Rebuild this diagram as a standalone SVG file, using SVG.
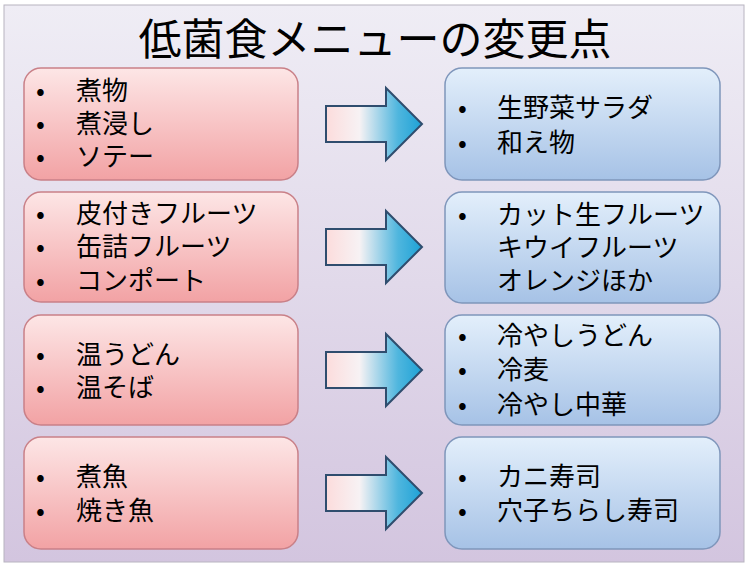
<svg xmlns="http://www.w3.org/2000/svg" width="750" height="567" viewBox="0 0 750 567">
<defs>
<linearGradient id="bg" x1="0" y1="0" x2="0" y2="1">
<stop offset="0" stop-color="#efedf5"/>
<stop offset="1" stop-color="#d3c5df"/>
</linearGradient>
<linearGradient id="pink" x1="0" y1="0" x2="0" y2="1">
<stop offset="0" stop-color="#fde6e6"/>
<stop offset="1" stop-color="#f2a2a4"/>
</linearGradient>
<linearGradient id="blue" x1="0" y1="0" x2="0" y2="1">
<stop offset="0" stop-color="#e3effb"/>
<stop offset="1" stop-color="#a6c2e6"/>
</linearGradient>
<linearGradient id="arr" x1="0" y1="0" x2="1" y2="0">
<stop offset="0" stop-color="#fcdcdc"/>
<stop offset="0.35" stop-color="#f7f2f4"/>
<stop offset="0.75" stop-color="#4fb6de"/>
<stop offset="1" stop-color="#1ea2d6"/>
</linearGradient>
</defs>
<style>
.l{fill:url(#pink);stroke:#c98088;stroke-width:1.5}
.r{fill:url(#blue);stroke:#7f96bb;stroke-width:1.5}
.a{fill:url(#arr);stroke:#2f4d6e;stroke-width:2;stroke-linejoin:miter}
text{font-family:"Noto Sans CJK JP","Noto Sans CJK SC",sans-serif;fill:#000}
.t{font-size:26px}
.h{font-size:43px}
</style>
<rect x="0" y="0" width="750" height="567" fill="#ffffff"/>
<rect x="4" y="5" width="740" height="557" fill="url(#bg)" stroke="#b8b4c0" stroke-width="1"/>
<text class="h" x="375" y="55" text-anchor="middle">低菌食メニューの変更点</text>

<g id="connectors">
<polygon class="a" points="326,106 386,106 386,88 422,124 386,160 386,142 326,142"/>
<polygon class="a" points="326,229 386,229 386,211 422,247 386,283 386,265 326,265"/>
<polygon class="a" points="326,352 386,352 386,334 422,370 386,406 386,388 326,388"/>
<polygon class="a" points="326,475 386,475 386,457 422,493 386,529 386,511 326,511"/>
</g>

<g id="left1">
<rect class="l" x="24" y="68" width="274" height="112" rx="17"/>
<text class="t" x="36" y="100">•</text><text class="t" x="76" y="100">煮物</text>
<text class="t" x="36" y="133">•</text><text class="t" x="76" y="133">煮浸し</text>
<text class="t" x="36" y="166">•</text><text class="t" x="76" y="166">ソテー</text>
</g>
<g id="left2">
<rect class="l" x="24" y="192" width="274" height="110" rx="17"/>
<text class="t" x="36" y="223">•</text><text class="t" x="76" y="223">皮付きフルーツ</text>
<text class="t" x="36" y="256">•</text><text class="t" x="76" y="256">缶詰フルーツ</text>
<text class="t" x="36" y="290">•</text><text class="t" x="76" y="290">コンポート</text>
</g>
<g id="left3">
<rect class="l" x="24" y="315" width="274" height="110" rx="17"/>
<text class="t" x="36" y="364">•</text><text class="t" x="76" y="364">温うどん</text>
<text class="t" x="36" y="397">•</text><text class="t" x="76" y="397">温そば</text>
</g>
<g id="left4">
<rect class="l" x="24" y="437" width="274" height="112" rx="17"/>
<text class="t" x="36" y="486">•</text><text class="t" x="76" y="486">煮魚</text>
<text class="t" x="36" y="520">•</text><text class="t" x="76" y="520">焼き魚</text>
</g>

<g id="right1">
<rect class="r" x="445" y="68" width="275" height="112" rx="17"/>
<text class="t" x="458" y="117">•</text><text class="t" x="497" y="117">生野菜サラダ</text>
<text class="t" x="458" y="152">•</text><text class="t" x="497" y="152">和え物</text>
</g>
<g id="right2">
<rect class="r" x="445" y="192" width="275" height="111" rx="17"/>
<text class="t" x="458" y="224">•</text><text class="t" x="497" y="224">カット生フルーツ</text>
<text class="t" x="497" y="257">キウイフルーツ</text>
<text class="t" x="497" y="290">オレンジほか</text>
</g>
<g id="right3">
<rect class="r" x="445" y="315" width="275" height="110" rx="17"/>
<text class="t" x="458" y="345">•</text><text class="t" x="497" y="345">冷やしうどん</text>
<text class="t" x="458" y="379">•</text><text class="t" x="497" y="379">冷麦</text>
<text class="t" x="458" y="414">•</text><text class="t" x="497" y="414">冷やし中華</text>
</g>
<g id="right4">
<rect class="r" x="445" y="437" width="275" height="112" rx="17"/>
<text class="t" x="458" y="486">•</text><text class="t" x="497" y="486">カニ寿司</text>
<text class="t" x="458" y="520">•</text><text class="t" x="497" y="520">穴子ちらし寿司</text>
</g>
</svg>
